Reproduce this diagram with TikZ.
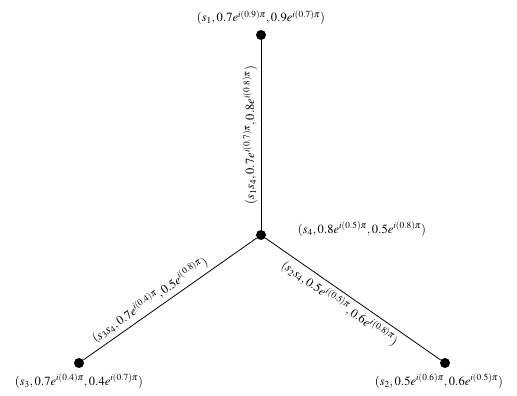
\documentclass[tikz,border=0pt]{standalone}
\usepackage{mathptmx}
\usepackage{tikz}
\usetikzlibrary{positioning,calc}

\begin{document}
\begin{tikzpicture}[
  x=1pt,y=1pt,
  font=\fontsize{12.5}{15}\selectfont,
  vert/.style={circle,fill=black,inner sep=0pt,minimum size=10pt},
  lab/.style={inner sep=1.5pt},
  edge/.style={draw=black,thick}]

\useasboundingbox (0,0) rectangle (517,396);

\node[vert] (s1) at (261,361) {};
\node[vert] (s4) at (261,161) {};
\node[vert] (s3) at (79,33) {};
\node[vert] (s2) at (445,33) {};

\node[lab,above=3pt of s1] (l1) {$(s_1,0.7e^{i(0.9)\pi},0.9e^{i(0.7)\pi})$};
\node[lab,right=30pt of s4,yshift=6pt] (l4) {$(s_4,0.8e^{i(0.5)\pi},0.5e^{i(0.8)\pi})$};
\node[lab,below=4pt of s3] (l3) {$(s_3,0.7e^{i(0.4)\pi},0.4e^{i(0.7)\pi})$};
\node[lab,below=4pt of s2,xshift=-6pt] (l2) {$(s_2,0.5e^{i(0.6)\pi},0.6e^{i(0.5)\pi})$};

\draw[edge] (s4) -- node[sloped,above,pos=0.5] {$(s_1s_4,0.7e^{i(0.7)\pi},0.8e^{i(0.8)\pi})$} (s1);
\draw[edge] (s3) -- node[sloped,above,pos=0.42] {$(s_3s_4,0.7e^{i(0.4)\pi},0.5e^{i(0.8)\pi})$} (s4);
\draw[edge] (s4) -- node[sloped,below,pos=0.46] {$(s_2s_4,0.5e^{i(0.5)\pi},0.6e^{i(0.8)\pi})$} (s2);
\end{tikzpicture}
\end{document}
